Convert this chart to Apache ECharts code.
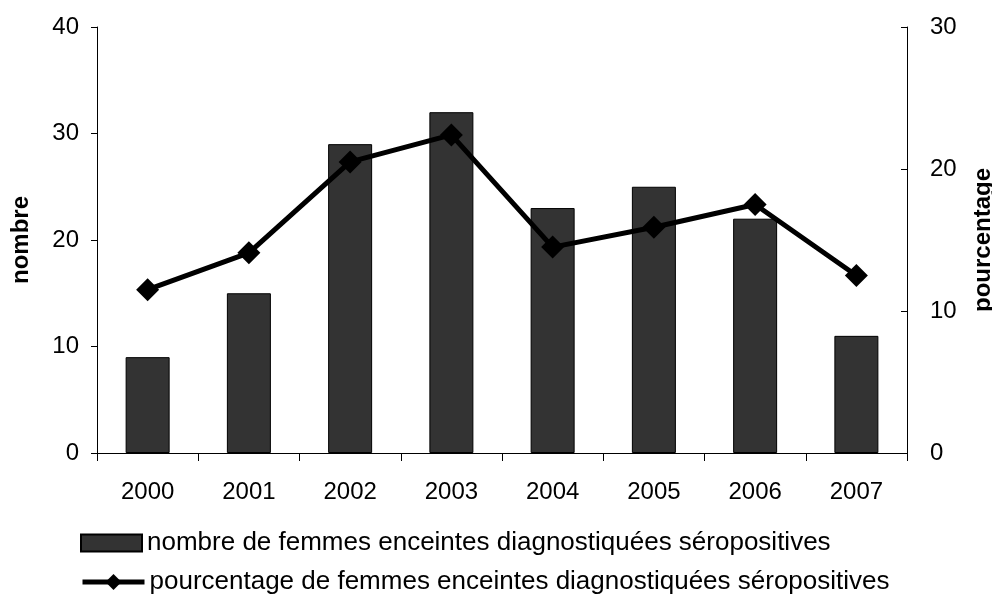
<!DOCTYPE html>
<html>
<head>
<meta charset="utf-8">
<script src="https://cdn.jsdelivr.net/npm/echarts@6/dist/echarts.min.js"></script>
<style>
  html, body { margin: 0; padding: 0; background: #fff; }
  #chart { width: 992px; height: 596px; }
</style>
</head>
<body>
<div id="chart"></div>
<script>
const years = ["2000", "2001", "2002", "2003", "2004", "2005", "2006", "2007"];
const nombre = [9, 15, 29, 32, 23, 25, 22, 11];
const pourcentage = [11.5, 14.1, 20.5, 22.4, 14.5, 15.9, 17.5, 12.5];
const leftTicks = [0, 10, 20, 30, 40];
const rightTicks = [0, 10, 20, 30];

const barName = "nombre de femmes enceintes diagnostiquées séropositives";
const lineName = "pourcentage de femmes enceintes diagnostiquées séropositives";

const font = "'Liberation Sans', Arial, sans-serif";

const myChart = echarts.init(document.getElementById("chart"));

// legend style shared by both rows
const legendText = { fontFamily: font, fontSize: 26, color: "#000" };

const option = {
  animation: false,
  textStyle: { fontFamily: font, color: "#000" },
  grid: { left: 97, right: 85, top: 27, bottom: 143, outerBoundsMode: "none" },
  legend: [
    {
      left: 80,
      top: 530,
      padding: 0,
      itemWidth: 61,
      itemHeight: 17,
      textStyle: legendText,
      data: [{ name: barName, icon: "rect" }]
    },
    {
      left: 80,
      top: 569,
      padding: 0,
      itemWidth: 62,
      itemHeight: 20,
      lineStyle: { width: 5 },
      textStyle: legendText,
      data: [{ name: lineName }]
    }
  ],
  xAxis: {
    type: "category",
    data: years,
    axisLine: { lineStyle: { color: "#000", width: 1 } },
    axisTick: { show: true, length: 8, lineStyle: { color: "#000" } },
    axisLabel: { fontSize: 24, color: "#000", margin: 27, fontFamily: font }
  },
  yAxis: [
    {
      type: "value",
      min: leftTicks[0],
      max: leftTicks[leftTicks.length - 1],
      interval: 10,
      name: "nombre",
      nameLocation: "middle",
      nameRotate: 90,
      nameGap: 64,
      nameTextStyle: { fontSize: 24, fontWeight: "bold", color: "#000", fontFamily: font },
      axisLine: { show: true, lineStyle: { color: "#000", width: 1 } },
      axisTick: { show: true, length: 6, lineStyle: { color: "#000" } },
      axisLabel: { fontSize: 24, color: "#000", margin: 18, fontFamily: font },
      splitLine: { show: false }
    },
    {
      type: "value",
      position: "right",
      min: rightTicks[0],
      max: rightTicks[rightTicks.length - 1],
      interval: 10,
      name: "pourcentage",
      nameLocation: "middle",
      nameRotate: 90,
      nameGap: 64,
      nameTextStyle: { fontSize: 24, fontWeight: "bold", color: "#000", fontFamily: font },
      axisLine: { show: true, lineStyle: { color: "#000", width: 1 } },
      axisTick: { show: true, length: 6, inside: true, lineStyle: { color: "#000" } },
      axisLabel: { fontSize: 24, color: "#000", margin: 23, fontFamily: font },
      splitLine: { show: false }
    }
  ],
  series: [
    {
      name: barName,
      type: "bar",
      yAxisIndex: 0,
      barWidth: 44,
      itemStyle: { color: "#333333", borderColor: "#000", borderWidth: 1 },
      data: nombre
    },
    {
      name: lineName,
      type: "line",
      yAxisIndex: 1,
      symbol: "diamond",
      symbolSize: 23,
      lineStyle: { color: "#000", width: 5 },
      itemStyle: { color: "#000" },
      data: pourcentage
    }
  ]
};

myChart.setOption(option);
</script>
</body>
</html>
